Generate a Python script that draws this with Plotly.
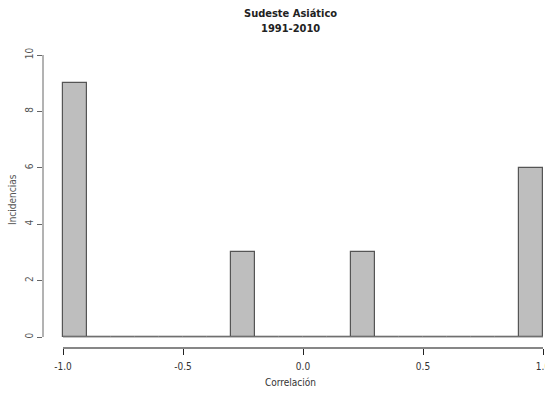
import plotly.graph_objects as go

# Data: histogram of correlations, bins of width 0.1 from -1 to 1
bin_edges = [round(-1.0 + 0.1 * i, 1) for i in range(21)]
counts = [9, 0, 0, 0, 0, 0, 0, 3, 0, 0, 0, 0, 3, 0, 0, 0, 0, 0, 0, 6]
x_ticks = [-1.0, -0.5, 0.0, 0.5, 1.0]
x_tick_labels = ["-1.0", "-0.5", "0.0", "0.5", "1.0"]
y_ticks = [0, 2, 4, 6, 8, 10]
y_tick_labels = ["0", "2", "4", "6", "8", "10"]
title_line1 = "Sudeste Asiático"
title_line2 = "1991-2010"
x_title = "Correlación"
y_title = "Incidencias"

centers = [(bin_edges[i] + bin_edges[i + 1]) / 2 for i in range(len(counts))]
widths = [bin_edges[i + 1] - bin_edges[i] for i in range(len(counts))]

FONT = "DejaVu Sans Condensed, Liberation Sans Narrow, Arial Narrow, sans-serif"

fig = go.Figure()
# baseline of empty bins
fig.add_trace(go.Scatter(x=[bin_edges[0], bin_edges[-1]], y=[0, 0], mode="lines",
                         line=dict(color="#8a8a8a", width=1.2), hoverinfo="skip",
                         showlegend=False))
fig.add_trace(go.Bar(x=centers, y=counts, width=widths,
                     marker=dict(color="#bebebe", line=dict(color="#555555", width=1.2)),
                     showlegend=False))

W, H = 545, 400
ml, mr, mt, mb = 43, 0, 40, 52
# x: -1 at pixel 63, 1 at 543
x0 = -1 - (63 - ml) / 240.0
x1 = -1 + (W - mr - 63) / 240.0
# y: 0 at 337, 10 at 55
ppy = (337 - 55) / 10.0
y0 = -((H - mb) - 337) / ppy
y1 = (337 - mt) / ppy

fig.update_layout(
    width=W, height=H,
    margin=dict(l=ml, r=mr, t=mt, b=mb, pad=0),
    paper_bgcolor="white", plot_bgcolor="white",
    font=dict(family=FONT, size=10, color="#333333"),
    bargap=0,
    xaxis=dict(range=[x0, x1], showgrid=False, zeroline=False, showline=False,
               tickvals=x_ticks, ticktext=x_tick_labels, ticks="outside", ticklen=6,
               tickcolor="#222222", tickwidth=1, tickfont=dict(size=10, color="#333333"),
               ticklabeloverflow="allow", ticklabelstandoff=3,
               fixedrange=True, automargin=False),
    yaxis=dict(range=[y0, y1], showgrid=False, zeroline=False, showline=False,
               tickvals=y_ticks, ticktext=y_tick_labels, ticks="outside", ticklen=5,
               tickcolor="#666666", tickwidth=1, tickangle=-90,
               tickfont=dict(size=10, color="#555555"), fixedrange=True, automargin=False),
    shapes=[
        dict(type="line", xref="paper", yref="y", x0=0, x1=0, y0=0, y1=10,
             line=dict(color="#666666", width=1)),
        dict(type="line", xref="x", yref="paper", x0=-1, x1=1, y0=0, y1=0,
             line=dict(color="#111111", width=1.2)),
    ],
    annotations=[
        dict(text="<b>" + title_line1 + "</b>", xref="paper", yref="paper",
             x=(290 - ml) / (W - ml - mr), y=1 + (mt - 13) / (H - mt - mb),
             showarrow=False, xanchor="center", yanchor="middle",
             font=dict(size=11, color="#222222")),
        dict(text="<b>" + title_line2 + "</b>", xref="paper", yref="paper",
             x=(290 - ml) / (W - ml - mr), y=1 + (mt - 29) / (H - mt - mb),
             showarrow=False, xanchor="center", yanchor="middle",
             font=dict(size=11, color="#222222")),
        dict(text=x_title, xref="paper", yref="paper",
             x=(290 - ml) / (W - ml - mr), y=-(383 - (H - mb)) / (H - mt - mb),
             showarrow=False, xanchor="center", yanchor="middle",
             font=dict(size=10, color="#333333")),
        dict(text=y_title, xref="paper", yref="paper", textangle=-90,
             x=-(ml - 13) / (W - ml - mr), y=((H - mb) - 200) / (H - mt - mb),
             showarrow=False, xanchor="center", yanchor="middle",
             font=dict(size=10, color="#555555")),
    ],
)

fig.write_html("out.html", config={"displayModeBar": False},
               post_script="document.body.style.margin='0px';document.body.style.overflow='hidden';")
